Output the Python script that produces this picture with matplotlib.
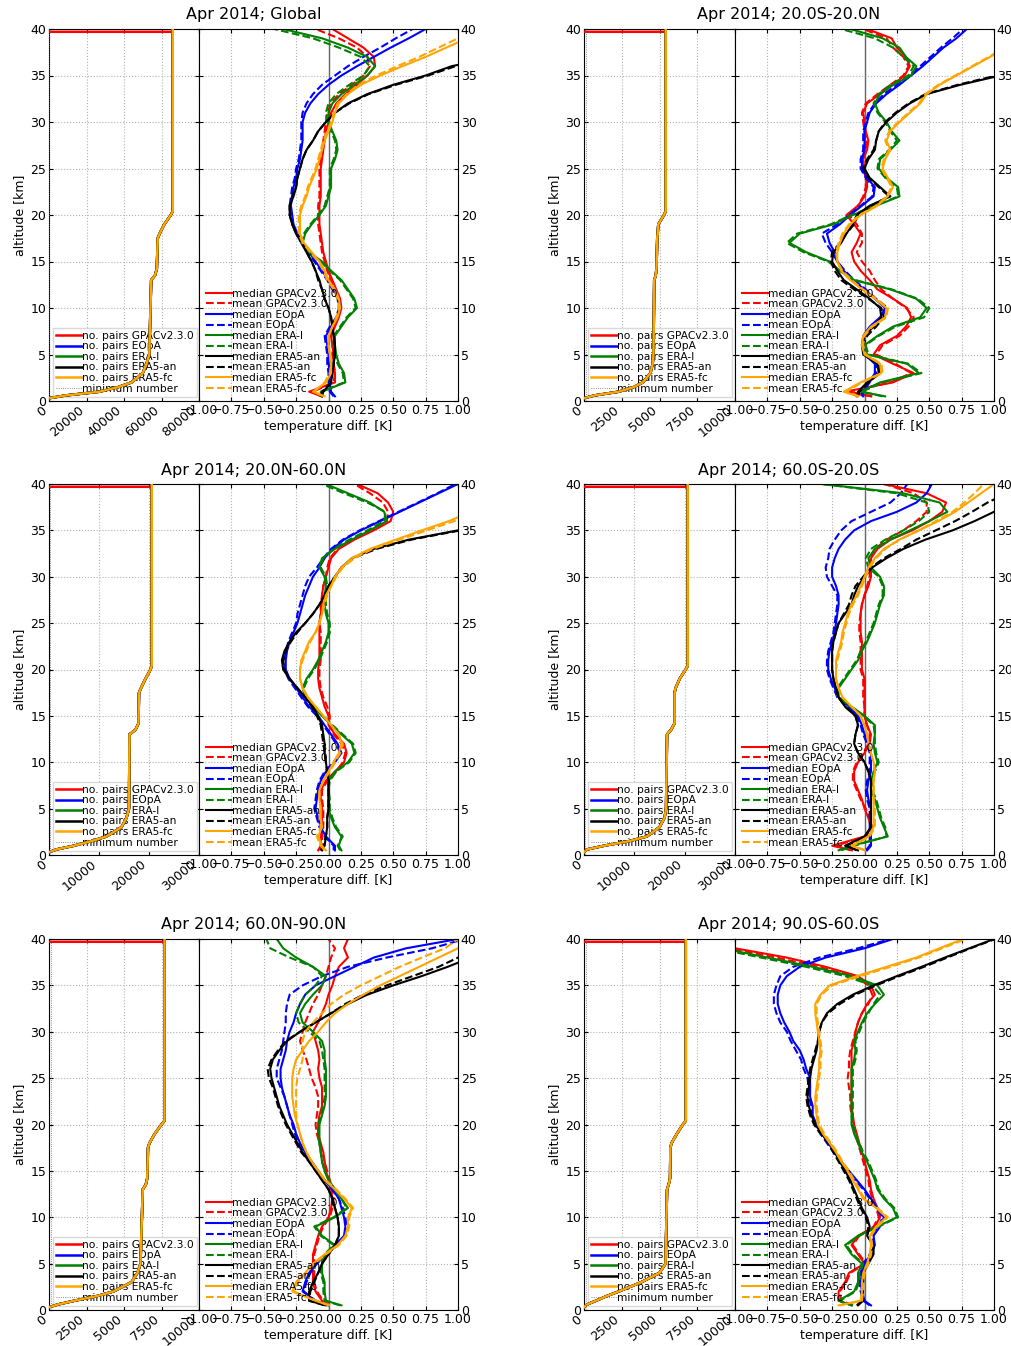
import matplotlib.pyplot as plt
import numpy as np

# altitude grid of the difference profiles [km]
alt = np.array([0.5] + list(range(1, 41)), dtype=float)

# altitude grid of the pair counts [km]
cnt_alt = [0.3, 0.6, 1.0, 1.5, 2.0, 3.0, 4.0, 5.0, 13.0, 13.5, 14.2,
           17.5, 18.0, 19.0, 20.0, 20.4, 40.0]
gpac_top_km = 39.7
min_number = 100

gl_counts = [0, 9000, 27000, 37000, 44000, 50000, 52000, 53500, 54500, 56500,
             57500, 58000, 59000, 61500, 65000, 66000, 66000]
tr_counts = [0, 700, 2300, 3300, 3900, 4400, 4550, 4600, 4650, 4750,
             4800, 4850, 4880, 4920, 5300, 5410, 5410]
nm_counts = [0, 1500, 5000, 8500, 11500, 14500, 15500, 16000, 16100, 17300,
             17900, 18000, 18400, 19300, 20300, 20550, 20550]
sm_counts = [0, 600, 4000, 9000, 12500, 15000, 16000, 16300, 16500, 17300,
             18000, 18000, 18200, 19000, 20200, 20600, 20600]
np_counts = [0, 600, 1700, 3200, 4300, 5500, 5900, 6100, 6250, 6450,
             6550, 6600, 6700, 7050, 7500, 7700, 7700]
sp_counts = [0, 200, 800, 1500, 2300, 3800, 5000, 5400, 5500, 5600,
             5700, 5720, 5800, 6150, 6550, 6740, 6740]

# ---- Global ----
gl_gpac_med = [-0.05,
    -0.15, 0.05, 0.05, 0.04, 0.04, 0.03, 0.02, 0.05, 0.08, 0.10,
    0.09, 0.06, 0.03, 0.00, -0.02, -0.04, -0.05, -0.06, -0.07, -0.07,
    -0.07, -0.06, -0.06, -0.06, -0.06, -0.05, -0.04, -0.03, -0.02, 0.00,
    0.02, 0.06, 0.13, 0.22, 0.30, 0.36, 0.35, 0.27, 0.15, 0.03]
gl_gpac_mean = [-0.06,
    -0.12, 0.04, 0.05, 0.04, 0.03, 0.03, 0.02, 0.04, 0.07, 0.09,
    0.08, 0.05, 0.02, -0.01, -0.03, -0.05, -0.06, -0.07, -0.08, -0.08,
    -0.08, -0.07, -0.07, -0.07, -0.07, -0.06, -0.05, -0.04, -0.03, -0.02,
    -0.01, 0.02, 0.08, 0.18, 0.27, 0.32, 0.30, 0.22, 0.08, -0.10]
gl_eopa_med = [0.05,
    0.02, 0.01, 0.01, 0.00, 0.00, -0.01, -0.02, 0.02, 0.07, 0.09,
    0.08, 0.04, 0.00, -0.05, -0.10, -0.15, -0.20, -0.24, -0.27, -0.28,
    -0.29, -0.28, -0.27, -0.25, -0.24, -0.22, -0.21, -0.20, -0.20, -0.20,
    -0.18, -0.14, -0.08, 0.00, 0.10, 0.22, 0.35, 0.48, 0.62, 0.75]
gl_eopa_mean = [0.04,
    0.01, 0.00, 0.00, -0.01, -0.01, -0.02, -0.03, 0.01, 0.06, 0.08,
    0.07, 0.03, -0.01, -0.06, -0.11, -0.16, -0.21, -0.25, -0.28, -0.29,
    -0.30, -0.29, -0.28, -0.26, -0.25, -0.23, -0.22, -0.21, -0.21, -0.21,
    -0.20, -0.17, -0.12, -0.05, 0.05, 0.15, 0.27, 0.40, 0.52, 0.65]
gl_erai_med = [-0.05,
    -0.05, 0.13, 0.12, 0.08, 0.06, 0.05, 0.05, 0.10, 0.15, 0.22,
    0.20, 0.15, 0.10, 0.02, -0.05, -0.15, -0.20, -0.18, -0.13, -0.07,
    -0.02, 0.00, 0.02, 0.02, 0.02, 0.05, 0.07, 0.06, 0.03, 0.00,
    0.00, 0.03, 0.10, 0.20, 0.30, 0.36, 0.30, 0.15, -0.05, -0.35]
gl_erai_mean = [-0.06,
    -0.06, 0.12, 0.11, 0.07, 0.05, 0.04, 0.04, 0.09, 0.14, 0.21,
    0.19, 0.14, 0.09, 0.01, -0.06, -0.16, -0.21, -0.19, -0.14, -0.08,
    -0.03, -0.01, 0.01, 0.01, 0.01, 0.04, 0.06, 0.05, 0.02, -0.01,
    -0.02, 0.00, 0.06, 0.16, 0.27, 0.32, 0.25, 0.08, -0.12, -0.42]
gl_era5an_med = [-0.05,
    -0.04, 0.02, 0.03, 0.04, 0.05, 0.05, 0.04, 0.03, 0.02, 0.00,
    -0.03, -0.05, -0.07, -0.10, -0.13, -0.17, -0.20, -0.25, -0.28, -0.30,
    -0.30, -0.27, -0.25, -0.24, -0.22, -0.20, -0.17, -0.12, -0.08, -0.02,
    0.05, 0.15, 0.30, 0.50, 0.75, 0.95, 1.30, 1.60, 1.90, 2.20]
gl_era5an_mean = [-0.06,
    -0.05, 0.02, 0.03, 0.04, 0.04, 0.05, 0.04, 0.03, 0.02, 0.00,
    -0.03, -0.05, -0.08, -0.10, -0.13, -0.17, -0.21, -0.25, -0.28, -0.30,
    -0.30, -0.28, -0.25, -0.24, -0.22, -0.20, -0.17, -0.12, -0.08, -0.02,
    0.05, 0.16, 0.31, 0.52, 0.77, 0.98, 1.32, 1.62, 1.92, 2.22]
gl_era5fc_med = [-0.03,
    -0.12, -0.02, 0.02, 0.02, 0.01, 0.00, 0.00, 0.03, 0.07, 0.09,
    0.08, 0.05, 0.00, -0.03, -0.07, -0.13, -0.19, -0.22, -0.22, -0.22,
    -0.20, -0.17, -0.15, -0.12, -0.09, -0.07, -0.05, -0.03, 0.00, 0.03,
    0.05, 0.08, 0.15, 0.25, 0.40, 0.57, 0.75, 0.91, 1.07, 1.20]
gl_era5fc_mean = [-0.04,
    -0.11, -0.03, 0.01, 0.02, 0.01, 0.00, 0.00, 0.03, 0.06, 0.08,
    0.07, 0.04, -0.01, -0.04, -0.08, -0.14, -0.20, -0.23, -0.23, -0.23,
    -0.21, -0.18, -0.16, -0.13, -0.10, -0.08, -0.06, -0.04, -0.01, 0.02,
    0.04, 0.07, 0.14, 0.23, 0.37, 0.53, 0.70, 0.85, 1.00, 1.12]

# ---- 20.0S-20.0N ----
tr_gpac_med = [0.05,
    -0.15, 0.22, 0.38, 0.22, 0.07, 0.12, 0.25, 0.32, 0.36, 0.33,
    0.22, 0.10, 0.04, -0.03, -0.08, -0.10, -0.06, -0.03, -0.08, -0.14,
    -0.05, 0.00, 0.02, 0.02, 0.00, -0.01, 0.02, 0.03, 0.01, 0.00,
    -0.01, 0.02, 0.12, 0.22, 0.31, 0.35, 0.32, 0.25, 0.21, 0.02]
tr_gpac_mean = [0.06,
    -0.12, 0.20, 0.36, 0.24, 0.09, 0.14, 0.27, 0.34, 0.38, 0.32,
    0.22, 0.13, 0.08, 0.04, -0.02, -0.06, -0.02, -0.02, -0.06, -0.12,
    -0.05, -0.01, 0.01, 0.01, -0.01, -0.02, 0.01, 0.02, 0.00, -0.01,
    -0.02, 0.01, 0.10, 0.20, 0.30, 0.34, 0.30, 0.22, 0.17, -0.01]
tr_eopa_med = [-0.01,
    -0.01, 0.04, 0.08, 0.08, 0.00, -0.02, -0.01, 0.04, 0.12, 0.16,
    0.08, 0.00, -0.09, -0.16, -0.21, -0.23, -0.27, -0.29, -0.19, -0.11,
    -0.02, 0.07, 0.08, 0.02, -0.02, -0.02, 0.00, 0.00, 0.00, 0.02,
    0.04, 0.09, 0.17, 0.27, 0.36, 0.45, 0.53, 0.61, 0.71, 0.79]
tr_eopa_mean = [-0.02,
    -0.02, 0.03, 0.09, 0.09, 0.01, -0.02, 0.00, 0.05, 0.13, 0.18,
    0.09, 0.01, -0.08, -0.15, -0.21, -0.25, -0.30, -0.33, -0.21, -0.12,
    -0.03, 0.06, 0.07, 0.01, -0.03, -0.03, -0.01, -0.01, -0.01, 0.01,
    0.03, 0.08, 0.15, 0.25, 0.34, 0.43, 0.51, 0.59, 0.68, 0.76]
tr_erai_med = [0.16,
    -0.03, 0.12, 0.42, 0.33, 0.02, 0.00, 0.10, 0.22, 0.43, 0.48,
    0.40, 0.20, -0.08, -0.19, -0.27, -0.45, -0.58, -0.50, -0.24, -0.09,
    0.09, 0.27, 0.26, 0.17, 0.11, 0.12, 0.20, 0.27, 0.21, 0.17,
    0.11, 0.08, 0.12, 0.22, 0.36, 0.40, 0.32, 0.27, 0.14, -0.11]
tr_erai_mean = [0.14,
    -0.02, 0.14, 0.44, 0.34, 0.03, 0.01, 0.11, 0.24, 0.46, 0.50,
    0.41, 0.21, -0.07, -0.19, -0.28, -0.47, -0.60, -0.52, -0.26, -0.10,
    0.08, 0.26, 0.25, 0.16, 0.10, 0.11, 0.19, 0.25, 0.20, 0.16,
    0.10, 0.07, 0.11, 0.20, 0.34, 0.38, 0.30, 0.22, 0.08, -0.18]
tr_era5an_med = [-0.06,
    -0.05, 0.02, 0.11, 0.10, -0.01, -0.02, 0.00, 0.07, 0.13, 0.12,
    0.04, -0.06, -0.16, -0.21, -0.25, -0.24, -0.18, -0.14, -0.09, -0.06,
    0.04, 0.20, 0.12, 0.04, 0.00, 0.03, 0.08, 0.09, 0.11, 0.17,
    0.25, 0.35, 0.48, 0.74, 1.05, 1.40, 1.75, 2.10, 2.40, 2.70]
tr_era5an_mean = [-0.05,
    -0.04, 0.03, 0.12, 0.11, 0.00, -0.01, 0.02, 0.09, 0.15, 0.13,
    0.03, -0.08, -0.18, -0.23, -0.26, -0.25, -0.19, -0.14, -0.08, -0.05,
    0.05, 0.19, 0.11, 0.03, -0.01, 0.02, 0.07, 0.09, 0.11, 0.16,
    0.24, 0.34, 0.47, 0.72, 1.02, 1.36, 1.70, 2.05, 2.35, 2.65]
tr_era5fc_med = [-0.05,
    -0.16, -0.03, 0.13, 0.12, 0.00, -0.02, -0.01, 0.05, 0.16, 0.17,
    0.08, -0.02, -0.11, -0.18, -0.21, -0.21, -0.19, -0.16, -0.11, -0.03,
    0.10, 0.18, 0.22, 0.18, 0.14, 0.16, 0.20, 0.17, 0.20, 0.27,
    0.35, 0.43, 0.48, 0.58, 0.71, 0.84, 0.97, 1.10, 1.20, 1.30]
tr_era5fc_mean = [-0.04,
    -0.14, -0.02, 0.14, 0.13, 0.01, -0.01, 0.00, 0.06, 0.17, 0.18,
    0.09, -0.01, -0.10, -0.17, -0.21, -0.22, -0.20, -0.17, -0.12, -0.04,
    0.09, 0.17, 0.21, 0.17, 0.13, 0.15, 0.19, 0.16, 0.19, 0.26,
    0.34, 0.42, 0.47, 0.57, 0.70, 0.83, 0.96, 1.08, 1.18, 1.28]

# ---- 20.0N-60.0N ----
nm_gpac_med = [-0.08,
    -0.06, -0.06, -0.05, -0.05, -0.05, -0.06, -0.06, -0.02, 0.05, 0.12,
    0.14, 0.12, 0.05, 0.00, 0.00, -0.03, -0.05, -0.07, -0.08, -0.08,
    -0.07, -0.07, -0.07, -0.07, -0.07, -0.06, -0.05, -0.05, -0.04, -0.02,
    0.00, 0.02, 0.08, 0.20, 0.35, 0.48, 0.50, 0.46, 0.38, 0.22]
nm_gpac_mean = [-0.07,
    -0.05, -0.05, -0.04, -0.04, -0.04, -0.05, -0.05, -0.01, 0.06, 0.11,
    0.13, 0.10, 0.04, 0.01, 0.01, -0.01, -0.04, -0.06, -0.07, -0.07,
    -0.06, -0.06, -0.06, -0.06, -0.07, -0.06, -0.06, -0.05, -0.04, -0.02,
    -0.01, 0.01, 0.07, 0.18, 0.32, 0.45, 0.46, 0.42, 0.32, 0.20]
nm_eopa_med = [0.05,
    0.05, -0.02, -0.06, -0.08, -0.10, -0.09, -0.08, -0.06, -0.02, 0.05,
    0.10, 0.07, 0.02, -0.03, -0.08, -0.15, -0.20, -0.25, -0.30, -0.33,
    -0.33, -0.32, -0.30, -0.27, -0.24, -0.22, -0.20, -0.18, -0.15, -0.12,
    -0.07, -0.03, 0.03, 0.12, 0.25, 0.40, 0.55, 0.70, 0.85, 1.00]
nm_eopa_mean = [0.04,
    0.04, -0.03, -0.07, -0.09, -0.11, -0.10, -0.09, -0.07, -0.03, 0.04,
    0.09, 0.06, 0.01, -0.04, -0.09, -0.16, -0.21, -0.26, -0.31, -0.34,
    -0.34, -0.33, -0.31, -0.28, -0.25, -0.24, -0.22, -0.20, -0.18, -0.15,
    -0.09, -0.04, 0.02, 0.11, 0.24, 0.39, 0.54, 0.69, 0.84, 0.98]
nm_erai_med = [0.10,
    0.08, 0.10, 0.05, 0.02, 0.00, 0.00, 0.00, 0.00, 0.05, 0.15,
    0.20, 0.18, 0.10, 0.02, -0.05, -0.12, -0.18, -0.20, -0.17, -0.12,
    -0.08, -0.05, -0.02, 0.00, 0.00, -0.02, -0.03, -0.03, -0.02, -0.03,
    -0.07, -0.05, 0.05, 0.18, 0.32, 0.45, 0.43, 0.32, 0.15, -0.02]
nm_erai_mean = [0.09,
    0.07, 0.11, 0.06, 0.03, 0.01, 0.01, 0.00, 0.01, 0.06, 0.16,
    0.21, 0.19, 0.11, 0.03, -0.04, -0.11, -0.17, -0.19, -0.16, -0.11,
    -0.07, -0.04, -0.01, 0.01, 0.01, -0.01, -0.02, -0.02, -0.01, -0.02,
    -0.06, -0.04, 0.04, 0.16, 0.30, 0.43, 0.44, 0.30, 0.12, -0.05]
nm_era5an_med = [-0.05,
    -0.03, -0.02, -0.01, -0.01, 0.00, 0.00, 0.00, 0.00, -0.01, -0.02,
    -0.03, -0.03, -0.04, -0.05, -0.08, -0.12, -0.18, -0.24, -0.30, -0.35,
    -0.36, -0.34, -0.30, -0.25, -0.18, -0.12, -0.07, -0.03, 0.00, 0.05,
    0.10, 0.18, 0.35, 0.62, 1.00, 1.40, 1.80, 2.20, 2.60, 3.00]
nm_era5an_mean = [-0.06,
    -0.04, -0.02, -0.01, -0.01, 0.00, 0.00, 0.00, 0.00, -0.01, -0.02,
    -0.03, -0.04, -0.05, -0.06, -0.09, -0.13, -0.18, -0.24, -0.30, -0.34,
    -0.35, -0.33, -0.29, -0.24, -0.18, -0.12, -0.07, -0.03, 0.00, 0.05,
    0.10, 0.19, 0.37, 0.64, 1.02, 1.42, 1.82, 2.22, 2.62, 3.02]
nm_era5fc_med = [-0.02,
    -0.05, -0.08, -0.05, -0.06, -0.06, -0.07, -0.07, -0.04, 0.00, 0.04,
    0.08, 0.10, 0.08, 0.02, -0.04, -0.10, -0.16, -0.20, -0.22, -0.22,
    -0.21, -0.18, -0.15, -0.10, -0.07, -0.05, -0.04, -0.02, 0.02, 0.05,
    0.10, 0.18, 0.32, 0.52, 0.72, 0.93, 1.10, 1.30, 1.50, 1.70]
nm_era5fc_mean = [-0.03,
    -0.06, -0.09, -0.06, -0.07, -0.06, -0.07, -0.07, -0.04, 0.01, 0.05,
    0.09, 0.11, 0.08, 0.02, -0.04, -0.10, -0.16, -0.20, -0.22, -0.22,
    -0.20, -0.17, -0.14, -0.10, -0.07, -0.05, -0.03, -0.01, 0.02, 0.06,
    0.11, 0.20, 0.34, 0.55, 0.76, 0.97, 1.15, 1.35, 1.55, 1.75]

# ---- 60.0S-20.0S ----
sm_gpac_med = [-0.10,
    -0.25, 0.00, 0.05, 0.03, 0.00, -0.02, -0.05, -0.08, -0.08, -0.05,
    0.00, 0.04, 0.05, 0.02, 0.00, 0.00, 0.00, 0.00, 0.00, -0.02,
    -0.02, -0.02, -0.02, -0.03, -0.03, -0.03, -0.02, 0.00, 0.03, 0.05,
    0.05, 0.05, 0.10, 0.20, 0.37, 0.50, 0.60, 0.63, 0.48, 0.15]
sm_gpac_mean = [-0.09,
    -0.22, 0.01, 0.06, 0.04, 0.01, -0.03, -0.06, -0.09, -0.09, -0.06,
    -0.01, 0.03, 0.04, 0.02, 0.00, 0.00, -0.01, -0.01, -0.01, -0.03,
    -0.03, -0.03, -0.03, -0.04, -0.04, -0.03, -0.02, 0.00, 0.02, 0.04,
    0.04, 0.04, 0.08, 0.17, 0.30, 0.40, 0.48, 0.48, 0.38, 0.15]
sm_eopa_med = [0.02,
    0.05, 0.05, 0.05, 0.05, 0.05, 0.03, 0.02, 0.03, 0.05, 0.05,
    0.05, 0.03, 0.00, -0.02, -0.05, -0.12, -0.20, -0.23, -0.26, -0.28,
    -0.28, -0.27, -0.25, -0.23, -0.22, -0.21, -0.20, -0.20, -0.22, -0.25,
    -0.25, -0.23, -0.20, -0.15, -0.08, 0.05, 0.25, 0.40, 0.48, 0.52]
sm_eopa_mean = [0.01,
    0.04, 0.04, 0.04, 0.04, 0.04, 0.02, 0.01, 0.02, 0.04, 0.04,
    0.04, 0.02, -0.01, -0.03, -0.06, -0.13, -0.21, -0.24, -0.27, -0.29,
    -0.29, -0.28, -0.26, -0.24, -0.23, -0.22, -0.21, -0.21, -0.25, -0.29,
    -0.30, -0.28, -0.27, -0.23, -0.18, -0.10, 0.05, 0.20, 0.28, 0.33]
sm_erai_med = [-0.20,
    -0.10, 0.18, 0.15, 0.12, 0.10, 0.08, 0.05, 0.05, 0.07, 0.10,
    0.08, 0.07, 0.08, 0.08, 0.00, -0.10, -0.20, -0.20, -0.15, -0.10,
    -0.05, -0.02, 0.02, 0.05, 0.08, 0.10, 0.12, 0.15, 0.15, 0.12,
    0.05, 0.03, 0.08, 0.20, 0.35, 0.50, 0.64, 0.58, 0.30, -0.33]
sm_erai_mean = [-0.18,
    -0.08, 0.17, 0.16, 0.13, 0.11, 0.09, 0.06, 0.06, 0.08, 0.11,
    0.09, 0.08, 0.08, 0.07, -0.01, -0.11, -0.21, -0.21, -0.16, -0.11,
    -0.06, -0.03, 0.01, 0.04, 0.07, 0.09, 0.11, 0.14, 0.14, 0.11,
    0.03, 0.01, 0.05, 0.16, 0.30, 0.42, 0.50, 0.48, 0.25, -0.33]
sm_era5an_med = [-0.05,
    -0.15, 0.00, 0.05, 0.05, 0.05, 0.05, 0.05, 0.05, 0.03, 0.00,
    -0.05, -0.08, -0.07, -0.05, -0.07, -0.15, -0.20, -0.22, -0.24, -0.25,
    -0.25, -0.25, -0.24, -0.22, -0.20, -0.15, -0.10, -0.08, -0.05, 0.00,
    0.06, 0.17, 0.30, 0.47, 0.68, 0.85, 1.00, 1.25, 1.50, 1.75]
sm_era5an_mean = [-0.06,
    -0.14, 0.01, 0.05, 0.05, 0.05, 0.05, 0.05, 0.05, 0.03, 0.00,
    -0.05, -0.08, -0.07, -0.05, -0.07, -0.15, -0.20, -0.22, -0.24, -0.25,
    -0.25, -0.25, -0.24, -0.22, -0.20, -0.16, -0.12, -0.10, -0.07, -0.01,
    0.05, 0.15, 0.28, 0.40, 0.55, 0.70, 0.83, 0.95, 1.10, 1.25]
sm_era5fc_med = [0.00,
    -0.10, 0.03, 0.07, 0.07, 0.07, 0.07, 0.07, 0.07, 0.08, 0.07,
    0.05, 0.03, 0.02, 0.00, -0.03, -0.10, -0.17, -0.20, -0.22, -0.22,
    -0.22, -0.20, -0.18, -0.17, -0.15, -0.13, -0.10, -0.06, -0.03, 0.00,
    0.03, 0.08, 0.15, 0.27, 0.42, 0.57, 0.70, 0.80, 0.90, 1.00]
sm_era5fc_mean = [0.01,
    -0.09, 0.04, 0.08, 0.08, 0.08, 0.07, 0.07, 0.07, 0.08, 0.07,
    0.05, 0.03, 0.02, 0.00, -0.03, -0.10, -0.17, -0.20, -0.22, -0.22,
    -0.21, -0.19, -0.17, -0.16, -0.14, -0.12, -0.09, -0.05, -0.02, 0.01,
    0.04, 0.09, 0.16, 0.27, 0.42, 0.55, 0.68, 0.77, 0.85, 0.92]

# ---- 60.0N-90.0N ----
np_gpac_med = [0.00,
    -0.05, -0.10, -0.12, -0.12, -0.12, -0.12, -0.10, -0.08, -0.05, 0.00,
    0.02, 0.03, 0.02, 0.00, -0.02, -0.03, -0.04, -0.06, -0.08, -0.08,
    -0.07, -0.05, -0.05, -0.05, -0.07, -0.08, -0.07, -0.08, -0.10, -0.12,
    -0.08, -0.05, -0.02, 0.00, 0.03, 0.05, 0.08, 0.15, 0.12, 0.15]
np_gpac_mean = [0.01,
    -0.04, -0.09, -0.11, -0.11, -0.11, -0.11, -0.09, -0.07, -0.04, 0.01,
    0.03, 0.04, 0.03, 0.01, -0.01, -0.03, -0.05, -0.07, -0.09, -0.10,
    -0.09, -0.08, -0.08, -0.10, -0.13, -0.15, -0.17, -0.20, -0.22, -0.20,
    -0.18, -0.15, -0.12, -0.08, -0.05, -0.02, 0.00, 0.02, 0.05, 0.00]
np_eopa_med = [0.00,
    -0.10, -0.20, -0.18, -0.15, -0.10, -0.02, 0.05, 0.12, 0.13, 0.12,
    0.10, 0.08, 0.03, -0.03, -0.08, -0.13, -0.18, -0.22, -0.25, -0.27,
    -0.30, -0.32, -0.34, -0.36, -0.37, -0.37, -0.35, -0.33, -0.32, -0.30,
    -0.27, -0.25, -0.22, -0.18, -0.10, 0.05, 0.20, 0.35, 0.60, 1.00]
np_eopa_mean = [0.00,
    -0.10, -0.19, -0.17, -0.14, -0.09, -0.01, 0.06, 0.13, 0.14, 0.13,
    0.11, 0.08, 0.03, -0.03, -0.08, -0.13, -0.19, -0.23, -0.26, -0.28,
    -0.30, -0.32, -0.34, -0.37, -0.40, -0.40, -0.38, -0.36, -0.35, -0.34,
    -0.33, -0.33, -0.32, -0.30, -0.20, -0.05, 0.15, 0.45, 0.80, 1.05]
np_erai_med = [0.10,
    -0.02, -0.03, -0.03, -0.05, -0.05, -0.02, 0.05, -0.05, -0.10, 0.05,
    0.15, 0.10, 0.05, 0.00, -0.03, -0.05, -0.06, -0.07, -0.07, -0.07,
    -0.05, -0.03, -0.02, -0.02, -0.02, -0.02, -0.03, -0.03, -0.05, -0.12,
    -0.20, -0.22, -0.18, -0.12, -0.05, -0.02, -0.12, -0.25, -0.35, -0.40]
np_erai_mean = [0.09,
    -0.03, -0.04, -0.04, -0.06, -0.06, -0.03, 0.04, -0.06, -0.11, 0.04,
    0.14, 0.10, 0.05, 0.00, -0.03, -0.05, -0.06, -0.07, -0.08, -0.08,
    -0.06, -0.04, -0.03, -0.03, -0.03, -0.03, -0.04, -0.05, -0.07, -0.15,
    -0.23, -0.25, -0.22, -0.18, -0.10, -0.05, -0.12, -0.30, -0.45, -0.48]
np_era5an_med = [-0.02,
    -0.15, -0.15, -0.12, -0.08, -0.05, 0.00, 0.05, 0.08, 0.08, 0.07,
    0.05, 0.03, 0.00, -0.05, -0.10, -0.15, -0.20, -0.24, -0.28, -0.32,
    -0.35, -0.38, -0.40, -0.42, -0.44, -0.45, -0.43, -0.38, -0.32, -0.22,
    -0.10, 0.02, 0.15, 0.30, 0.50, 0.72, 0.92, 1.10, 1.30, 1.50]
np_era5an_mean = [-0.03,
    -0.15, -0.14, -0.11, -0.08, -0.05, 0.00, 0.05, 0.08, 0.08, 0.07,
    0.05, 0.03, 0.00, -0.05, -0.10, -0.15, -0.21, -0.25, -0.29, -0.33,
    -0.36, -0.39, -0.41, -0.43, -0.46, -0.47, -0.44, -0.39, -0.33, -0.22,
    -0.10, 0.02, 0.13, 0.27, 0.45, 0.65, 0.85, 1.00, 1.18, 1.35]
np_era5fc_med = [0.00,
    -0.10, -0.28, -0.25, -0.18, -0.12, -0.03, 0.07, 0.13, 0.15, 0.15,
    0.18, 0.12, 0.05, -0.03, -0.08, -0.13, -0.17, -0.20, -0.22, -0.24,
    -0.26, -0.27, -0.28, -0.28, -0.28, -0.27, -0.25, -0.20, -0.15, -0.08,
    -0.02, 0.05, 0.15, 0.27, 0.40, 0.55, 0.70, 0.85, 1.00, 1.15]
np_era5fc_mean = [0.01,
    -0.09, -0.27, -0.24, -0.17, -0.11, -0.02, 0.08, 0.14, 0.16, 0.16,
    0.19, 0.13, 0.06, -0.02, -0.08, -0.13, -0.17, -0.20, -0.22, -0.24,
    -0.25, -0.25, -0.25, -0.25, -0.24, -0.22, -0.20, -0.20, -0.20, -0.18,
    -0.12, -0.05, 0.02, 0.12, 0.25, 0.40, 0.55, 0.72, 0.90, 1.00]

# ---- 90.0S-60.0S ----
sp_gpac_med = [-0.10,
    -0.20, -0.20, -0.15, -0.12, 0.00, -0.05, -0.10, -0.05, 0.08, 0.12,
    0.10, 0.07, 0.05, 0.04, 0.02, 0.00, -0.02, -0.04, -0.06, -0.08,
    -0.09, -0.10, -0.10, -0.10, -0.10, -0.10, -0.10, -0.10, -0.08, -0.07,
    -0.05, -0.02, 0.02, 0.08, 0.05, -0.05, -0.30, -0.60, -1.00, -1.40]
sp_gpac_mean = [-0.09,
    -0.18, -0.19, -0.14, -0.11, 0.01, -0.04, -0.09, -0.04, 0.07, 0.11,
    0.09, 0.06, 0.04, 0.03, 0.01, -0.01, -0.03, -0.05, -0.07, -0.09,
    -0.10, -0.11, -0.11, -0.12, -0.13, -0.12, -0.12, -0.11, -0.09, -0.07,
    -0.05, -0.02, 0.03, 0.06, 0.03, -0.08, -0.35, -0.68, -1.05, -1.45]
sp_eopa_med = [0.05,
    0.00, -0.02, -0.03, -0.02, 0.00, 0.05, 0.08, 0.07, 0.12, 0.15,
    0.10, 0.05, 0.00, -0.06, -0.12, -0.18, -0.23, -0.28, -0.33, -0.37,
    -0.40, -0.40, -0.42, -0.42, -0.42, -0.45, -0.47, -0.50, -0.55, -0.58,
    -0.62, -0.65, -0.67, -0.67, -0.65, -0.60, -0.50, -0.30, 0.00, 0.22]
sp_eopa_mean = [0.04,
    -0.01, -0.03, -0.04, -0.03, -0.01, 0.04, 0.07, 0.06, 0.11, 0.14,
    0.09, 0.04, -0.01, -0.07, -0.13, -0.19, -0.24, -0.29, -0.34, -0.38,
    -0.41, -0.41, -0.43, -0.43, -0.44, -0.47, -0.49, -0.53, -0.57, -0.60,
    -0.65, -0.68, -0.70, -0.70, -0.68, -0.65, -0.55, -0.35, -0.05, 0.20]
sp_erai_med = [-0.10,
    -0.20, -0.08, -0.05, -0.05, -0.02, -0.10, -0.15, -0.05, 0.10, 0.25,
    0.22, 0.15, 0.10, 0.08, 0.05, 0.02, -0.02, -0.05, -0.08, -0.10,
    -0.10, -0.10, -0.10, -0.10, -0.10, -0.10, -0.08, -0.07, -0.08, -0.05,
    -0.02, 0.02, 0.08, 0.15, 0.10, -0.10, -0.40, -0.75, -1.10, -1.50]
sp_erai_mean = [-0.09,
    -0.19, -0.07, -0.04, -0.04, -0.01, -0.09, -0.14, -0.04, 0.11, 0.26,
    0.23, 0.16, 0.11, 0.09, 0.06, 0.03, -0.01, -0.04, -0.07, -0.09,
    -0.09, -0.09, -0.09, -0.09, -0.09, -0.09, -0.07, -0.06, -0.07, -0.04,
    -0.01, 0.03, 0.07, 0.12, 0.06, -0.15, -0.45, -0.80, -1.15, -1.55]
sp_era5an_med = [-0.05,
    -0.01, -0.01, -0.01, -0.01, 0.03, 0.07, 0.07, 0.02, 0.04, 0.02,
    -0.02, -0.05, -0.08, -0.11, -0.15, -0.19, -0.23, -0.27, -0.33, -0.38,
    -0.41, -0.43, -0.44, -0.43, -0.42, -0.41, -0.39, -0.37, -0.36, -0.35,
    -0.33, -0.29, -0.21, -0.09, 0.07, 0.25, 0.44, 0.62, 0.81, 1.00]
sp_era5an_mean = [-0.06,
    -0.02, -0.02, -0.01, -0.01, 0.02, 0.06, 0.07, 0.02, 0.03, 0.01,
    -0.03, -0.06, -0.09, -0.12, -0.16, -0.20, -0.24, -0.28, -0.34, -0.39,
    -0.42, -0.44, -0.45, -0.44, -0.43, -0.42, -0.40, -0.38, -0.36, -0.35,
    -0.33, -0.28, -0.19, -0.07, 0.09, 0.27, 0.46, 0.64, 0.82, 1.01]
sp_era5fc_med = [-0.20,
    -0.03, -0.02, -0.02, -0.01, 0.02, 0.04, 0.05, 0.04, 0.09, 0.17,
    0.09, -0.01, -0.05, -0.09, -0.13, -0.18, -0.22, -0.27, -0.32, -0.36,
    -0.37, -0.38, -0.38, -0.37, -0.36, -0.35, -0.35, -0.34, -0.35, -0.36,
    -0.37, -0.38, -0.38, -0.34, -0.27, -0.06, 0.17, 0.40, 0.58, 0.76]
sp_era5fc_mean = [-0.19,
    -0.02, -0.01, -0.01, 0.00, 0.03, 0.05, 0.06, 0.05, 0.10, 0.18,
    0.10, 0.00, -0.04, -0.08, -0.12, -0.17, -0.21, -0.26, -0.31, -0.35,
    -0.36, -0.37, -0.37, -0.36, -0.35, -0.34, -0.34, -0.33, -0.34, -0.35,
    -0.36, -0.37, -0.37, -0.33, -0.25, -0.03, 0.20, 0.42, 0.60, 0.78]

datasets = ['GPACv2.3.0', 'EOpA', 'ERA-I', 'ERA5-an', 'ERA5-fc']
colors = ['red', 'blue', 'green', 'black', 'orange']

panels = [
    ('Global', gl_counts, [0, 20000, 40000, 60000, 80000],
     [gl_gpac_med, gl_gpac_mean, gl_eopa_med, gl_eopa_mean, gl_erai_med,
      gl_erai_mean, gl_era5an_med, gl_era5an_mean, gl_era5fc_med, gl_era5fc_mean]),
    ('20.0S-20.0N', tr_counts, [0, 2500, 5000, 7500, 10000],
     [tr_gpac_med, tr_gpac_mean, tr_eopa_med, tr_eopa_mean, tr_erai_med,
      tr_erai_mean, tr_era5an_med, tr_era5an_mean, tr_era5fc_med, tr_era5fc_mean]),
    ('20.0N-60.0N', nm_counts, [0, 10000, 20000, 30000],
     [nm_gpac_med, nm_gpac_mean, nm_eopa_med, nm_eopa_mean, nm_erai_med,
      nm_erai_mean, nm_era5an_med, nm_era5an_mean, nm_era5fc_med, nm_era5fc_mean]),
    ('60.0S-20.0S', sm_counts, [0, 10000, 20000, 30000],
     [sm_gpac_med, sm_gpac_mean, sm_eopa_med, sm_eopa_mean, sm_erai_med,
      sm_erai_mean, sm_era5an_med, sm_era5an_mean, sm_era5fc_med, sm_era5fc_mean]),
    ('60.0N-90.0N', np_counts, [0, 2500, 5000, 7500, 10000],
     [np_gpac_med, np_gpac_mean, np_eopa_med, np_eopa_mean, np_erai_med,
      np_erai_mean, np_era5an_med, np_era5an_mean, np_era5fc_med, np_era5fc_mean]),
    ('90.0S-60.0S', sp_counts, [0, 2500, 5000, 7500, 10000],
     [sp_gpac_med, sp_gpac_mean, sp_eopa_med, sp_eopa_mean, sp_erai_med,
      sp_erai_mean, sp_era5an_med, sp_era5an_mean, sp_era5fc_med, sp_era5fc_mean]),
]

W, H = 1011.0, 1346.0
rows_px = [(29, 401), (484, 855), (939, 1310)]
cols_px = [(49, 199, 458), (584, 735, 994)]

fig = plt.figure(figsize=(W / 100, H / 100), dpi=100)


def style_axis(ax):
    ax.set_ylim(0, 40)
    ax.set_yticks(range(0, 41, 5))
    ax.grid(True, linestyle=':', color='0.7', linewidth=0.8)
    ax.tick_params(direction='in', top=True, right=True, labelsize=9,
                   length=3, pad=2)
    ax.set_axisbelow(True)


for i, (region, counts, cticks, profiles) in enumerate(panels):
    top, bot = rows_px[i // 2]
    x0, x1, x2 = cols_px[i % 2]
    bottom = 1 - bot / H
    height = (bot - top) / H
    axc = fig.add_axes([x0 / W, bottom, (x1 - x0) / W, height])
    axt = fig.add_axes([x1 / W, bottom, (x2 - x1) / W, height])

    # number of pairs; GPAC stops just below the top level
    cnt = np.array(counts, float)
    calt = np.array(cnt_alt, float)
    red_cnt = np.append(cnt[:-1], [cnt[-1], 0])
    red_alt = np.append(calt[:-1], [gpac_top_km, gpac_top_km])
    axc.plot(red_cnt, red_alt, color=colors[0], lw=1.8, zorder=3,
             label='no. pairs ' + datasets[0])
    for name, c in zip(datasets[1:], colors[1:]):
        axc.plot(cnt, calt, color=c, lw=1.8, zorder=3,
                 label='no. pairs ' + name)
    axc.plot([min_number, min_number], [0, 40], color='0.4', lw=0.6,
             linestyle=':', zorder=3, label='minimum number')
    style_axis(axc)
    axc.set_xlim(0, cticks[-1])
    axc.set_xticks(cticks)
    axc.set_xticklabels([str(t) for t in cticks], rotation=40, ha='right')
    axc.set_ylabel('altitude [km]', fontsize=9, labelpad=3)
    leg = axc.legend(loc='lower left', fontsize=7.7, handlelength=2.4,
                     handletextpad=0.0, labelspacing=0.05, borderaxespad=0.4,
                     borderpad=0.3, fancybox=False, edgecolor='0.85',
                     framealpha=1.0)
    leg.set_zorder(2)

    # temperature differences
    for k, prof in enumerate(profiles):
        name = datasets[k // 2]
        stat = 'median' if k % 2 == 0 else 'mean'
        axt.plot(prof, alt, color=colors[k // 2], lw=1.5,
                 linestyle='-' if k % 2 == 0 else '--',
                 label=stat + ' ' + name)
    axt.axvline(0, color='0.4', lw=1.0, zorder=1)
    style_axis(axt)
    axt.set_xlim(-1, 1)
    axt.set_xticks(np.arange(-1, 1.01, 0.25))
    axt.tick_params(labelleft=False, labelright=True)
    axt.set_xlabel('temperature diff. [K]', fontsize=9, labelpad=2)
    axt.legend(loc='lower left', fontsize=7.7, handlelength=2.4,
               handletextpad=0.0, labelspacing=0.05, borderaxespad=0.3,
               frameon=False)

    fig.text((x0 + x2) / 2 / W, 1 - (top - 14) / H, 'Apr 2014; ' + region,
             ha='center', va='center', fontsize=11.5)

fig.savefig('out.png', dpi=100)
